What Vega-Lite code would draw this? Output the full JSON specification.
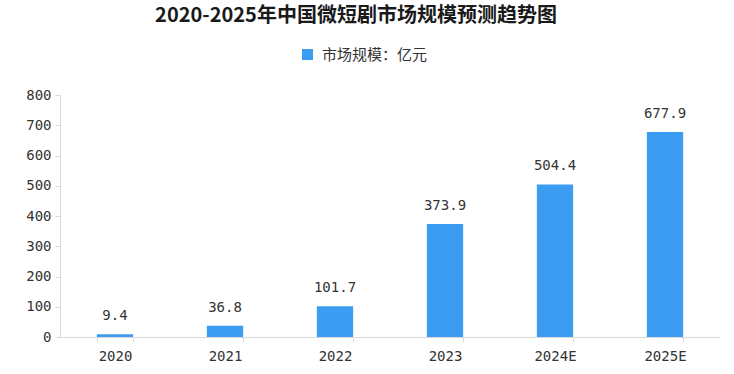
{
  "$schema": "https://vega.github.io/schema/vega-lite/v6.json",
  "width": 660,
  "height": 242,
  "autosize": "none",
  "padding": {"left": 60, "top": 95, "right": 14, "bottom": 37},
  "background": "white",
  "title": {
    "text": "2020-2025年中国微短剧市场规模预测趋势图",
    "anchor": "middle",
    "frame": "group",
    "dx": -34,
    "offset": 21,
    "font": "Noto Sans CJK SC",
    "fontSize": 20,
    "fontWeight": "bold",
    "color": "#1a1a1a"
  },
  "data": {
    "values": [
      {"year": "2020", "value": 9.4, "series": "市场规模：亿元"},
      {"year": "2021", "value": 36.8, "series": "市场规模：亿元"},
      {"year": "2022", "value": 101.7, "series": "市场规模：亿元"},
      {"year": "2023", "value": 373.9, "series": "市场规模：亿元"},
      {"year": "2024E", "value": 504.4, "series": "市场规模：亿元"},
      {"year": "2025E", "value": 677.9, "series": "市场规模：亿元"}
    ]
  },
  "encoding": {
    "x": {
      "field": "year",
      "type": "nominal",
      "sort": null,
      "scale": {"paddingInner": 0.67, "paddingOuter": 0.335},
      "axis": {
        "title": null,
        "labelAngle": 0,
        "labelFont": "DejaVu Sans Mono",
        "labelFontSize": 14,
        "labelColor": "#333333",
        "labelPadding": 7,
        "domainColor": "#d9d9d9",
        "tickColor": "#d9d9d9",
        "tickBand": "extent",
        "tickSize": 5,
        "grid": false
      }
    },
    "y": {
      "field": "value",
      "type": "quantitative",
      "scale": {"domain": [0, 800], "nice": false},
      "axis": {
        "title": null,
        "values": [0, 100, 200, 300, 400, 500, 600, 700, 800],
        "labelFont": "DejaVu Sans Mono",
        "labelFontSize": 14,
        "labelColor": "#333333",
        "labelPadding": 4,
        "domainColor": "#d9d9d9",
        "tickColor": "#d9d9d9",
        "tickSize": 5,
        "grid": false
      }
    }
  },
  "layer": [
    {
      "mark": {"type": "bar", "color": "#3c9cf2"},
      "encoding": {
        "color": {
          "field": "series",
          "type": "nominal",
          "scale": {"range": ["#3c9cf2"]},
          "legend": {
            "title": null,
            "orient": "none",
            "legendX": 240,
            "legendY": -48,
            "symbolType": "square",
            "symbolSize": 121,
            "labelFont": "Noto Sans CJK SC",
            "labelFontSize": 15,
            "labelColor": "#333333",
            "labelOffset": 7
          }
        }
      }
    },
    {
      "mark": {"type": "text", "dy": -11, "baseline": "bottom", "font": "DejaVu Sans Mono", "fontSize": 14, "color": "#333333"},
      "encoding": {
        "text": {"field": "value", "type": "quantitative", "format": ".1f"}
      }
    }
  ],
  "config": {"view": {"stroke": null}}
}
